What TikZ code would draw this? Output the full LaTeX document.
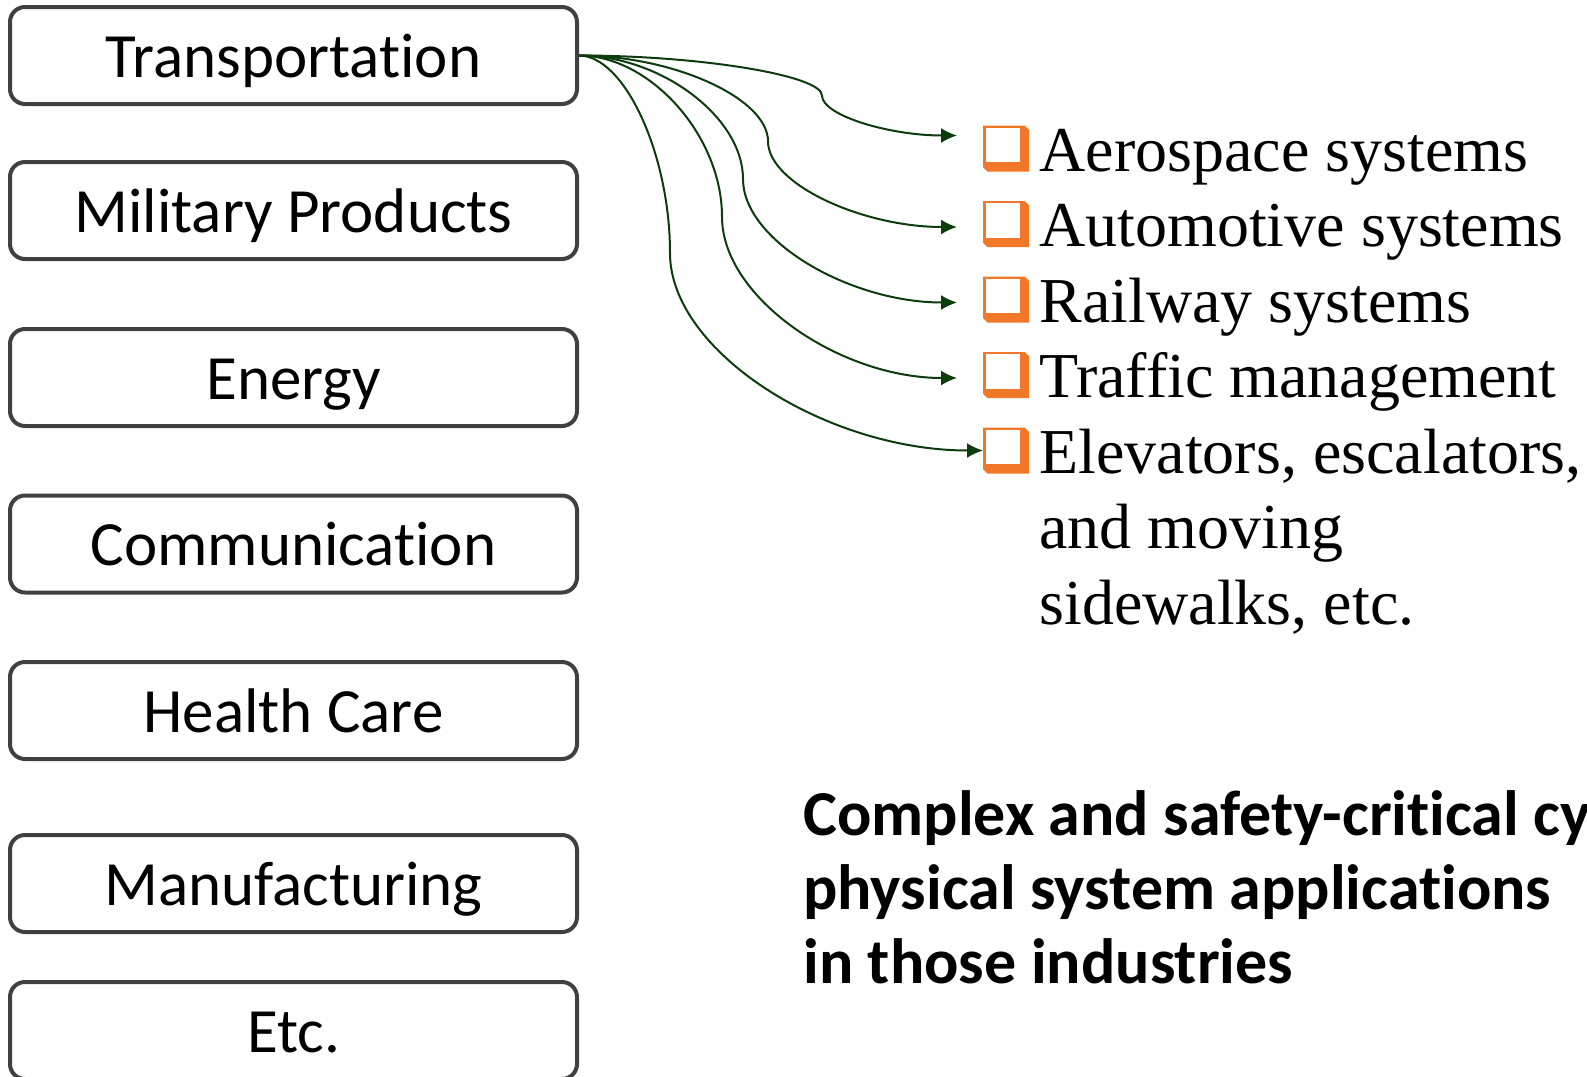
\documentclass[tikz,border=0pt]{standalone}
\usepackage{xcolor,fontspec,tikz}
\usetikzlibrary{arrows.meta}
\setmainfont{Liberation Serif}
\newfontfamily\calibri[Ligatures=NoCommon]{Carlito}
\definecolor{boxgray}{RGB}{64,64,64}
\definecolor{linkgreen}{RGB}{12,60,12}
\definecolor{bulletorange}{RGB}{240,120,40}

\begin{document}
\begin{tikzpicture}[x=0.5pt, y=-0.5pt,
		box/.style={draw=boxgray, line width=2pt, rounded corners=7.5pt, fill=white, minimum width=283.5pt, minimum height=48.5pt, inner sep=0pt, font=\calibri\fontsize{31.5}{37}\selectfont, text height=22pt, text depth=0.5pt},
		sqbox/.style={minimum size=23pt, inner sep=0pt, outer sep=0pt, fill=white, path picture={
			\fill[bulletorange] (path picture bounding box.north west) -- ++(20.8pt,0pt) -- ++(2.2pt,-2.2pt) -- ++(0pt,-20.8pt) -- ++(-20.8pt,0pt) -- ++(-2.2pt,2.2pt) -- cycle;
			\fill[white] ([shift={(1.4pt,-1.2pt)}]path picture bounding box.north west) rectangle ([shift={(-4.3pt,4.6pt)}]path picture bounding box.south east);
		}},
		item/.style={anchor=base west, inner sep=0pt, align=left, font=\fontsize{32}{37.75}\selectfont},
		link/.style={draw=linkgreen, line width=1pt, -{Latex[length=8pt, width=7.5pt]}}]
			\useasboundingbox (0,0) rectangle (1587,1077);

			\draw (293.5, 55.5) 	node[box] 	(trans) 	{Transportation};
			\draw (293.5, 210.5) 	node[box] 	(milit) 	{Military Products};
			\draw (293.5, 377.5) 	node[box] 	(energy) 	{Energy};
			\draw (293.5, 544) 	node[box] 	(comm) 		{Communication};
			\draw (293.5, 710.5) 	node[box] 	(health) 	{Health Care};
			\draw (293.5, 883.5) 	node[box] 	(manuf) 	{Manufacturing};
			\draw (293.5, 1030.5) 	node[box] 	(etc) 		{Etc.};

			\draw (1006, 148.5) 	node[sqbox] 	(b1) 	{};
			\draw (1006, 224) 	node[sqbox] 	(b2) 	{};
			\draw (1006, 299.5) 	node[sqbox] 	(b3) 	{};
			\draw (1006, 375) 	node[sqbox] 	(b4) 	{};
			\draw (1006, 450.5) 	node[sqbox] 	(b5) 	{};
			\draw (1039, 171) 	node[item] 	(aero) 		{Aerospace systems};
			\draw (1039, 246.5) 	node[item] 	(auto) 		{Automotive systems};
			\draw (1039, 322) 	node[item] 	(rail) 		{Railway systems};
			\draw (1039, 397.5) 	node[item] 	(traffic) 	{Traffic management};
			% base west of a multi-line node is its last line
			\draw (1039, 624) 	node[item] 	(elev) 		{Elevators, escalators,\\and moving\\sidewalks, etc.};

			\draw (803, 983) 	node[item, font=\calibri\bfseries\fontsize{32}{37}\selectfont] 	(summary) 	{Complex and safety-critical cy\\physical system applications\\in those industries};

			\draw[link] (trans.east) .. controls +(121.5,0) and +(0,-20) .. (822,95.5) .. controls +(0,20) and +(-67.5,0) .. ([shift={(-13pt,6.5pt)}]b1.west);
			\draw[link] (trans.east) .. controls +(94.5,0) and +(0,-42.9) .. (768,141.25) .. controls +(0,42.9) and +(-94.5,0) .. ([shift={(-13pt,-1.5pt)}]b2.west);
			\draw[link] (trans.east) .. controls +(82,0) and +(0,-61.75) .. (743,179) .. controls +(0,61.75) and +(-107,0) .. ([shift={(-13pt,-1.5pt)}]b3.west);
			\draw[link] (trans.east) .. controls +(71.5,0) and +(0,-80.6) .. (722,216.75) .. controls +(0,80.6) and +(-117.5,0) .. ([shift={(-13pt,-1.5pt)}]b4.west);
			\draw[link] (trans.east) .. controls +(45.5,0) and +(0,-98.75) .. (670,253) .. controls +(0,98.75) and +(-156.5,0) .. (b5.west);
		\end{tikzpicture}
\end{document}
